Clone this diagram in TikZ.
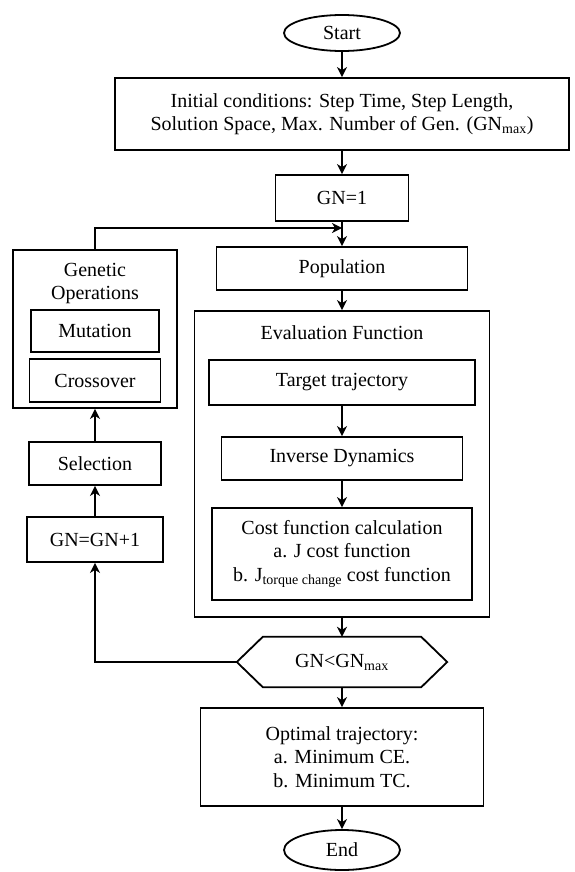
\documentclass[tikz,border=0pt]{standalone}
\usepackage{fontspec}
\setmainfont{Liberation Serif}
\usetikzlibrary{arrows.meta,shapes.geometric}
\tikzset{
  base/.style={align=center, inner sep=2pt, font=\fontsize{20}{23.5}\selectfont, text=black},
  box/.style={base, draw=black, line width=1.8pt},
  oval/.style={box, ellipse},
  arr/.style={-{Stealth[length=10pt,width=10pt,inset=3pt]}, line width=1.8pt},
  lne/.style={line width=1.8pt},
}

\begin{document}
\begin{tikzpicture}[x=1pt, y=-1pt]
  \useasboundingbox (0,0) rectangle (574,872);
  % main column
  \node[oval, minimum width=116pt, minimum height=36pt] (start) at (342,33) {Start};
  \node[box, minimum width=454pt, minimum height=72pt] (init) at (342,114) {Initial conditions: Step Time, Step Length,\\Solution Space, Max. Number of Gen. (GN\textsubscript{max})};
  \node[box, minimum width=133pt, minimum height=46pt] (gn1) at (342,198) {GN=1};
  \node[box, minimum width=251pt, minimum height=43pt] (pop) at (342,268.5) {Population};
  % evaluation block
  \node[box, minimum width=295pt, minimum height=306pt] (eval) at (342,464) {};
  \node[base] (evaltitle) at (342,333) {Evaluation Function};
  \node[box, minimum width=266pt, minimum height=45pt] (target) at (342,382.5) {Target trajectory};
  \node[box, minimum width=241pt, minimum height=43pt] (inv) at (342,458.5) {Inverse Dynamics};
  \node[box, minimum width=260pt, minimum height=92pt] (cost) at (342,554) {Cost function calculation\\a. J cost function\\b. J\textsubscript{torque change} cost function};
  % check
  \node[base, minimum width=210pt, minimum height=50pt] (hex) at (342,662) {GN<GN\textsubscript{max}};
  \draw[lne] (hex.west) -- ([xshift=26pt]hex.north west) -- ([xshift=-26pt]hex.north east) -- (hex.east)
    -- ([xshift=-26pt]hex.south east) -- ([xshift=26pt]hex.south west) -- cycle;
  \node[box, minimum width=283pt, minimum height=98pt] (opt) at (342,757) {Optimal trajectory:\\a. Minimum CE.\\b. Minimum TC.};
  \node[oval, minimum width=116pt, minimum height=40pt] (end) at (342,850) {End};
  % genetic side
  \node[box, minimum width=164pt, minimum height=158pt] (gen) at (95,329) {};
  \node[base] (gentitle) at (95,283.5) {Genetic\\Operations};
  \node[box, minimum width=128pt, minimum height=42pt] (mut) at (95,331) {Mutation};
  \node[box, minimum width=131pt, minimum height=43pt] (cross) at (95,380.5) {Crossover};
  \node[box, minimum width=132pt, minimum height=43pt] (sel) at (95,463.5) {Selection};
  \node[box, minimum width=136pt, minimum height=45pt] (gnp) at (95,539.5) {GN=GN+1};
  \coordinate (join) at (342,228);

  \foreach \p/\q in {start/init, init/gn1, gn1/pop, pop/eval, target/inv, inv/cost, eval/hex, hex/opt, opt/end}
    \draw[arr] (\p.south) -- (\q.north);
  \foreach \p/\q in {gnp/sel, sel/gen} \draw[arr] (\p.north) -- (\q.south);
  \draw[arr] (hex.west) -| (gnp.south);
  \draw[arr] (gen.north) |- (join);
\end{tikzpicture}
\end{document}
